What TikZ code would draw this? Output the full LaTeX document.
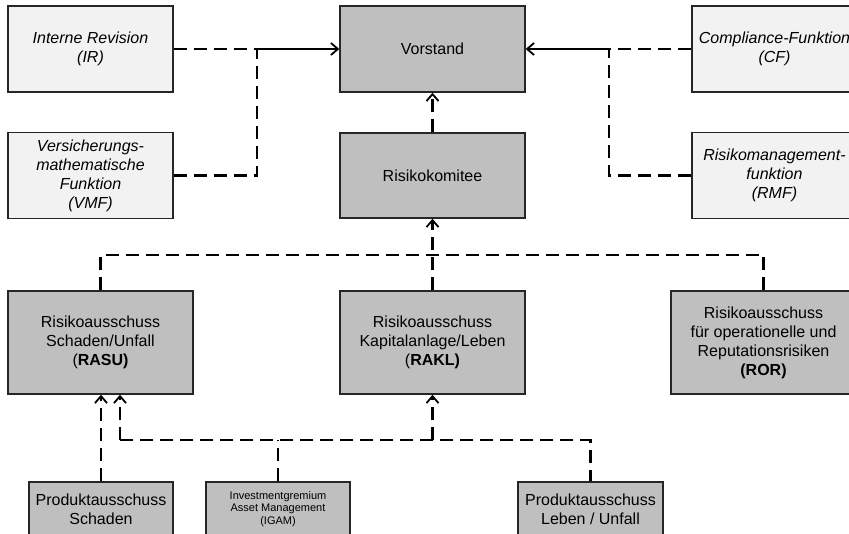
\documentclass[tikz,border=0pt]{standalone}
\usepackage{fontspec}
\setmainfont{Liberation Sans}
\usepackage{xcolor}
\usetikzlibrary{arrows.meta, positioning, calc}

\definecolor{darkbox}{RGB}{191,191,191}
\definecolor{lightbox}{RGB}{242,242,242}
\definecolor{boxline}{RGB}{38,38,38}

\begin{document}
\begin{tikzpicture}[x=1pt, y=-1pt,
    box/.style={draw=boxline, line width=1.4pt, inner sep=0pt, align=center,
        font=\fontsize{16}{19}\selectfont},
    gremium/.style={box, fill=darkbox},
    funktion/.style={box, fill=lightbox, minimum width=165pt, minimum height=86pt,
        font=\fontsize{16}{19}\selectfont\itshape},
    dline/.style={line width=2.2pt, dash pattern=on 13pt off 7pt},
    sline/.style={line width=2.2pt},
    tip/.style={-{Straight Barb[length=7pt, width=12pt, line width=1.8pt]}}]
    \useasboundingbox (0,0) rectangle (849,533);
    \clip (0,0) rectangle (849,533);

    % obere Ebene
    \node[gremium, minimum width=185pt, minimum height=86pt] (vorstand) at (432.5, 49) {Vorstand};
    \node[gremium, minimum width=185pt, minimum height=85pt] (komitee) at (432.5, 175.5) {Risikokomitee};
    \node[funktion] (ir) at (90.5, 49) {Interne Revision\\(IR)};
    \node[funktion] (vmf) at (90.5, 175.5) {Versicherungs-\\mathematische\\Funktion\\(VMF)};
    \node[funktion] (cf) at (774.5, 49) {Compliance-Funktion\\(CF)};
    \node[funktion] (rmf) at (774.5, 175.5) {Risikomanagement-\\funktion\\(RMF)};

    % Ausschuesse
    \node[gremium, minimum width=185pt, minimum height=103pt] (rasu) at (100.5, 342.5)
        {Risikoausschuss\\Schaden/Unfall\\(\textbf{RASU)}};
    \node[gremium, minimum width=185pt, minimum height=103pt] (rakl) at (432.5, 342.5)
        {Risikoausschuss\\Kapitalanlage/Leben\\(\textbf{RAKL)}};
    \node[gremium, minimum width=185pt, minimum height=103pt] (ror) at (763.5, 342.5)
        {Risikoausschuss\\für operationelle und\\Reputationsrisiken\\\textbf{(ROR)}};

    % untere Ebene
    \node[gremium, minimum width=144pt, minimum height=54pt] (pas) at (101, 509)
        {Produktausschuss\\Schaden};
    \node[gremium, minimum width=144pt, minimum height=54pt,
        font=\fontsize{11}{12.5}\selectfont] (igam) at (278, 509)
        {Investmentgremium\\Asset Management\\(IGAM)};
    \node[gremium, minimum width=145pt, minimum height=54pt] (pal) at (590.5, 509)
        {Produktausschuss\\Leben / Unfall};

    \coordinate (jl) at (257, 49);
    \coordinate (jr) at (609, 49);
    \coordinate (bl) at (120, 440);

    \draw[dline] (ir.east) -- (jl);
    \draw[dline] (vmf.east) -| (jl);
    \draw[sline, tip] (jl) -- (vorstand.west);
    \draw[dline] (cf.west) -- (jr);
    \draw[dline] (rmf.west) -| (jr);
    \draw[sline, tip] (jr) -- (vorstand.east);
    \draw[dline, tip] (komitee.north) -- (vorstand.south);

    \draw[dline] (rasu.north) -- ++(0,-35) -| (ror.north);
    \draw[dline, tip] (rakl.north) -- (komitee.south);

    \draw[dline, tip] (pas.north) -- (pas.north |- rasu.south);
    \draw[dline, tip] (bl) -- (bl |- rasu.south);
    \draw[dline] (bl) -- (pal.north |- bl) -- (pal.north);
    \draw[dline] (igam.north) -- (igam.north |- bl);
    \draw[dline, tip] (rakl.south |- bl) -- (rakl.south);
\end{tikzpicture}
\end{document}
